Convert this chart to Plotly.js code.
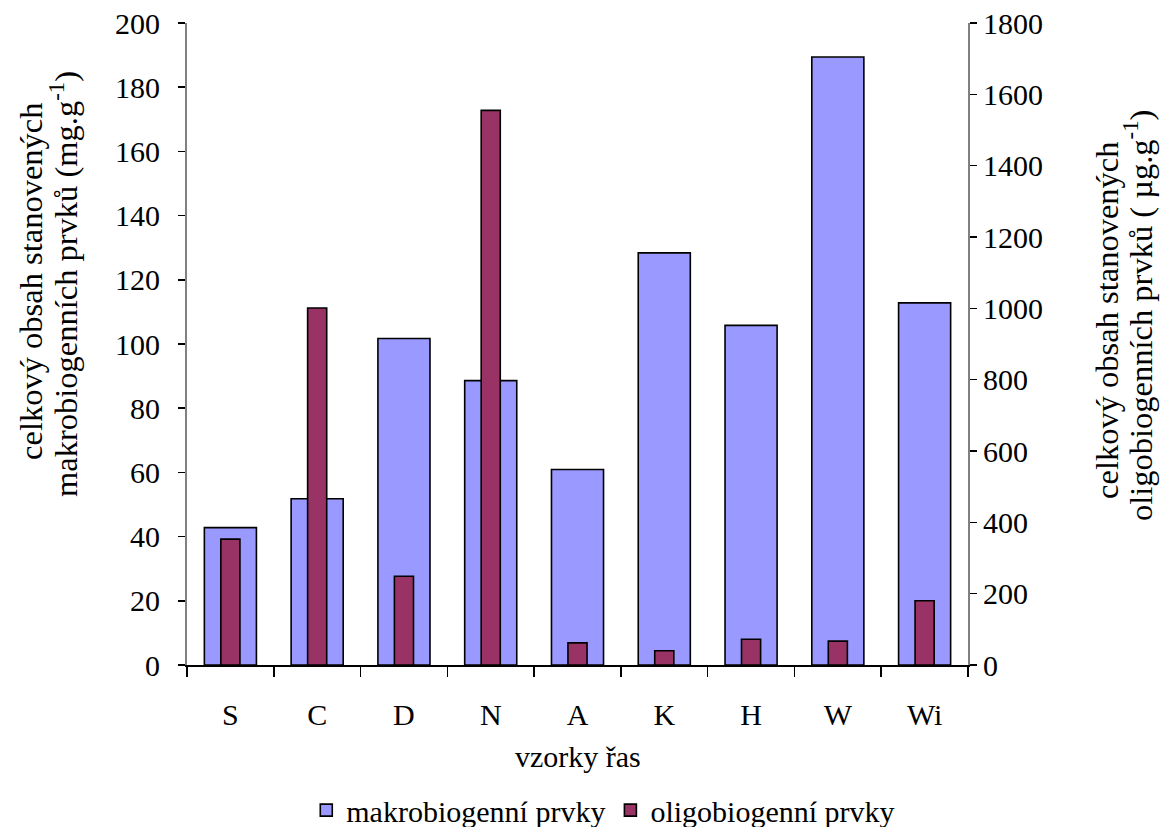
<!DOCTYPE html>
<html>
<head>
<meta charset="utf-8">
<script src="https://cdn.plot.ly/plotly-3.0.1.min.js"></script>
<style>
  html, body { margin: 0; padding: 0; background: #ffffff; }
  #chart { width: 1167px; height: 827px; }
</style>
</head>
<body>
<div id="chart"></div>
<script>
// Samples of algae
const categories = ['S', 'C', 'D', 'N', 'A', 'K', 'H', 'W', 'Wi'];
// Total content of macrobiogenic elements (mg/g)
const makroValues = [42.8, 51.8, 101.7, 88.6, 60.9, 128.4, 105.8, 189.4, 112.8];
// Total content of oligobiogenic elements (µg/g)
const oligoValues = [353, 1001, 249, 1555, 62, 40, 72, 67, 180];

const leftTicks = [0, 20, 40, 60, 80, 100, 120, 140, 160, 180, 200];
const rightTicks = [0, 200, 400, 600, 800, 1000, 1200, 1400, 1600, 1800];

const serif = 'Liberation Serif';
const titleSize = 32.5;

const traces = [
  {
    type: 'bar',
    name: 'makrobiogenní prvky',
    x: categories,
    y: makroValues,
    yaxis: 'y',
    width: 0.6,
    marker: { color: '#9999FF', line: { color: '#000000', width: 1.6 } },
    hoverinfo: 'x+y'
  },
  {
    type: 'bar',
    name: 'oligobiogenní prvky',
    x: categories,
    y: oligoValues,
    yaxis: 'y2',
    width: 0.22,
    marker: { color: '#993366', line: { color: '#000000', width: 1.6 } },
    hoverinfo: 'x+y'
  }
];

const layout = {
  width: 1167,
  height: 827,
  paper_bgcolor: '#ffffff',
  plot_bgcolor: '#ffffff',
  margin: { l: 187, r: 199, t: 23, b: 162, pad: 0, autoexpand: false },
  barmode: 'overlay',
  showlegend: true,
  font: { family: serif, size: 30, color: '#000000' },
  xaxis: {
    type: 'category',
    showline: true,
    linecolor: '#000000',
    linewidth: 1.5,
    ticks: 'outside',
    tickson: 'boundaries',
    ticklen: 10,
    tickwidth: 1.5,
    tickcolor: '#000000',
    ticklabelstandoff: 22,
    showgrid: false,
    zeroline: false,
    automargin: false,
    tickfont: { family: serif, size: 30, color: '#000000' },
    fixedrange: true
  },
  yaxis: {
    range: [0, 200],
    tickvals: leftTicks,
    ticktext: leftTicks.map(String),
    showline: true,
    linecolor: '#808080',
    linewidth: 2,
    ticks: 'outside',
    ticklen: 7,
    tickwidth: 1.5,
    tickcolor: '#000000',
    ticklabelstandoff: 12,
    showgrid: false,
    zeroline: false,
    automargin: false,
    tickfont: { family: serif, size: 30, color: '#000000' },
    fixedrange: true
  },
  yaxis2: {
    overlaying: 'y',
    side: 'right',
    range: [0, 1800],
    tickvals: rightTicks,
    ticktext: rightTicks.map(String),
    showline: true,
    linecolor: '#808080',
    linewidth: 2,
    ticks: 'outside',
    ticklen: 7,
    tickwidth: 1.5,
    tickcolor: '#000000',
    ticklabelstandoff: 0,
    showgrid: false,
    zeroline: false,
    automargin: false,
    tickfont: { family: serif, size: 30, color: '#000000' },
    fixedrange: true
  },
  legend: {
    orientation: 'h',
    x: 0.533,
    xanchor: 'center',
    y: -0.226,
    yanchor: 'middle',
    font: { family: serif, size: 30, color: '#000000' },
    bgcolor: 'rgba(0,0,0,0)',
    itemclick: false,
    itemdoubleclick: false
  },
  annotations: [
    {
      text: 'vzorky řas',
      xref: 'paper', yref: 'paper',
      x: 0.5, y: -0.1433,
      xanchor: 'center', yanchor: 'middle',
      showarrow: false,
      font: { family: serif, size: 30, color: '#000000' }
    },
    {
      text: 'celkový obsah stanovených',
      xref: 'paper', yref: 'paper',
      x: -0.2, y: 0.598,
      xanchor: 'center', yanchor: 'middle',
      textangle: -90,
      showarrow: false,
      font: { family: serif, size: titleSize, color: '#000000' }
    },
    {
      text: 'makrobiogenních prvků (mg.g<sup>-1</sup>)',
      xref: 'paper', yref: 'paper',
      x: -0.157, y: 0.594,
      xanchor: 'center', yanchor: 'middle',
      textangle: -90,
      showarrow: false,
      font: { family: serif, size: titleSize, color: '#000000' }
    },
    {
      text: 'celkový obsah stanovených',
      xref: 'paper', yref: 'paper',
      x: 1.178, y: 0.536,
      xanchor: 'center', yanchor: 'middle',
      textangle: -90,
      showarrow: false,
      font: { family: serif, size: titleSize, color: '#000000' }
    },
    {
      text: 'oligobiogenních prvků ( µg.g<sup>-1</sup>)',
      xref: 'paper', yref: 'paper',
      x: 1.2177, y: 0.5436,
      xanchor: 'center', yanchor: 'middle',
      textangle: -90,
      showarrow: false,
      font: { family: serif, size: titleSize, color: '#000000' }
    }
  ]
};

Plotly.newPlot('chart', traces, layout, { displayModeBar: false, staticPlot: true });
</script>
</body>
</html>
